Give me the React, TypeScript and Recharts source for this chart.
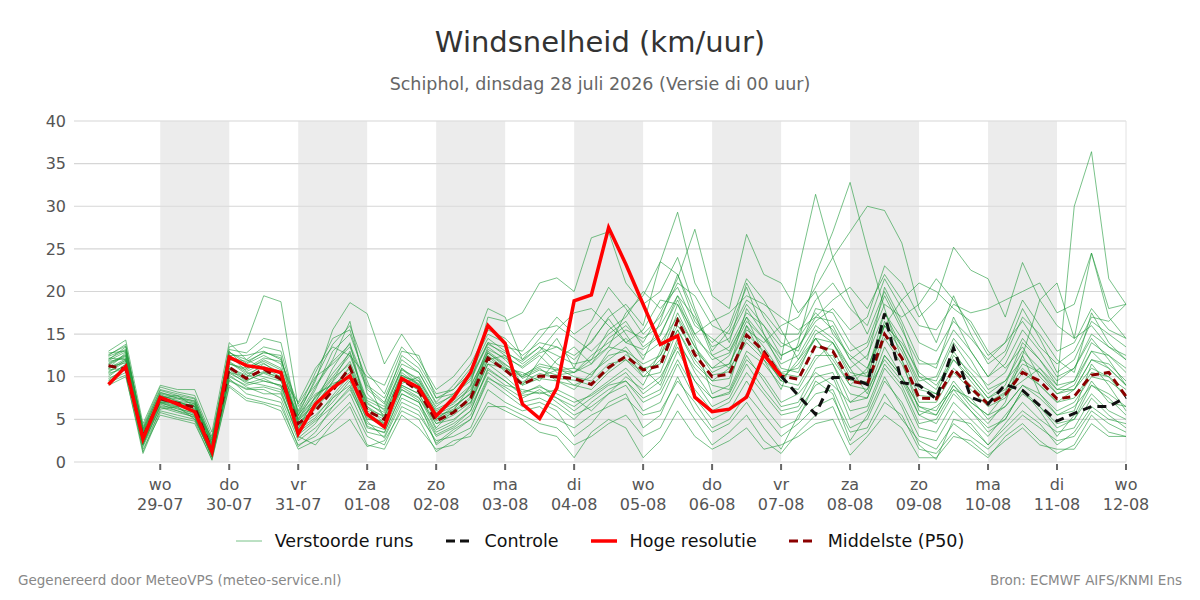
import { ComposedChart, Line, XAxis, YAxis, CartesianGrid, ReferenceArea, ReferenceLine } from 'recharts'

// uren sinds di 28-07 00:00, stap 6 uur
const hours = [
  6, 12, 18, 24, 30, 36, 42, 48, 54, 60,
  66, 72, 78, 84, 90, 96, 102, 108, 114, 120,
  126, 132, 138, 144, 150, 156, 162, 168, 174, 180,
  186, 192, 198, 204, 210, 216, 222, 228, 234, 240,
  246, 252, 258, 264, 270, 276, 282, 288, 294, 300,
  306, 312, 318, 324, 330, 336, 342, 348, 354, 360,
]

const tickHours = [24, 48, 72, 96, 120, 144, 168, 192, 216, 240, 264, 288, 312, 336, 360]
const dayNames = ['wo', 'do', 'vr', 'za', 'zo', 'ma', 'di', 'wo', 'do', 'vr', 'za', 'zo', 'ma', 'di', 'wo']
const dayDates = ['29-07', '30-07', '31-07', '01-08', '02-08', '03-08', '04-08', '05-08', '06-08', '07-08', '08-08', '09-08', '10-08', '11-08', '12-08']
const shadedDays = [24, 72, 120, 168, 216, 264, 312]
const yTicks = [0, 5, 10, 15, 20, 25, 30, 35, 40]

// hoge resolutie: t = 6 .. 240
const hogeResolutie = [
  9.1, 11.2, 2.7, 7.6, 6.8, 5.9, 1.2, 12.3, 11.3, 11.0,
  10.5, 3.3, 6.8, 8.7, 10.1, 5.6, 4.1, 9.8, 8.7, 5.4,
  7.5, 10.5, 16.0, 13.9, 6.8, 5.1, 8.7, 18.9, 19.6, 27.5,
  23.2, 18.5, 13.8, 14.8, 7.6, 5.9, 6.2, 7.6, 12.6, 10.1,
]

// controle: t = 240 .. 360
const controle = [
  10.1, 7.8, 5.6, 9.9, 9.9, 9.1, 17.4, 9.3, 9.0, 7.4,
  13.4, 7.6, 6.8, 9.1, 8.4, 6.6, 4.8, 5.7, 6.5, 6.5, 7.6,
]

const middelste = [
  11.3, 10.9, 2.9, 7.4, 6.9, 6.4, 1.3, 11.1, 9.8, 10.9,
  9.7, 4.5, 6.0, 8.4, 11.1, 6.0, 5.0, 9.7, 8.3, 4.8,
  5.8, 7.5, 12.2, 10.8, 9.1, 10.1, 10.0, 9.8, 9.1, 11.1,
  12.4, 10.8, 11.3, 16.6, 12.6, 10.0, 10.3, 14.9, 13.0, 10.1,
  9.7, 13.7, 13.0, 9.5, 9.1, 15.0, 12.2, 7.5, 7.4, 10.9,
  8.7, 6.8, 7.9, 10.5, 9.5, 7.4, 7.7, 10.2, 10.5, 7.7,
]

// verstoorde runs
const run01 = [12.5, 13.8, 3.5, 8.2, 7.5, 7.0, 2.0, 13.5, 14.0, 19.5, 18.8, 6.5, 9.0, 12.0, 16.5, 8.0, 6.0, 11.0, 9.5, 6.5, 8.0, 9.5, 14.0, 12.5, 9.0, 12.0, 14.5, 11.0, 15.5, 18.0, 15.0, 12.0, 16.5, 22.0, 17.5, 12.5, 11.0, 18.0, 15.0, 12.0, 22.5, 31.4, 24.0, 19.0, 15.0, 20.0, 16.0, 10.0, 8.5, 13.0, 10.0, 7.5, 9.0, 14.0, 12.0, 9.5, 11.0, 14.5, 12.0, 9.0]
const run02 = [10.0, 11.5, 2.0, 6.5, 6.0, 5.5, 0.5, 10.0, 9.0, 9.5, 9.0, 3.5, 5.0, 7.0, 9.5, 4.0, 3.5, 8.0, 7.0, 3.5, 4.5, 6.0, 11.0, 9.5, 8.0, 9.0, 7.5, 6.5, 8.0, 9.5, 11.0, 9.0, 13.0, 18.5, 14.0, 8.0, 9.0, 16.0, 12.0, 8.5, 14.0, 22.0, 27.0, 32.8, 25.0, 18.0, 12.0, 6.0, 5.5, 9.0, 6.5, 4.5, 7.0, 12.5, 8.0, 5.5, 6.0, 11.5, 9.0, 6.0]
const run03 = [11.8, 12.2, 3.0, 7.0, 6.5, 6.8, 1.5, 10.5, 10.0, 11.5, 10.5, 5.0, 7.5, 10.0, 12.5, 7.0, 5.5, 10.5, 9.0, 5.0, 6.5, 8.0, 13.0, 11.5, 10.0, 11.0, 9.5, 8.5, 10.5, 12.0, 13.5, 11.0, 9.0, 14.0, 11.0, 9.0, 8.5, 13.0, 11.5, 9.0, 8.5, 12.0, 14.0, 11.0, 8.0, 13.5, 10.0, 6.5, 6.0, 9.5, 7.0, 5.5, 8.0, 9.5, 11.0, 9.0, 30.0, 36.4, 21.5, 18.5]
const run04 = [12.8, 13.0, 4.0, 8.5, 8.0, 7.5, 2.5, 12.5, 12.5, 13.0, 12.0, 6.0, 10.5, 14.5, 15.5, 9.0, 7.5, 12.0, 10.5, 7.0, 9.0, 11.5, 15.5, 14.5, 12.5, 14.0, 13.5, 12.5, 14.0, 17.0, 18.5, 16.0, 23.5, 29.3, 21.0, 17.5, 14.0, 21.0, 17.0, 14.0, 13.0, 18.0, 17.5, 14.0, 12.0, 20.5, 16.5, 12.0, 11.0, 17.0, 13.0, 10.0, 12.5, 17.0, 15.0, 12.0, 10.5, 17.5, 14.0, 12.0]
const run05 = [9.0, 10.0, 1.5, 5.5, 5.0, 4.5, 0.3, 9.0, 7.5, 7.0, 6.5, 2.0, 3.0, 5.0, 7.0, 3.0, 2.0, 6.5, 5.5, 2.5, 3.0, 4.0, 8.5, 7.0, 6.0, 6.5, 5.0, 4.0, 5.5, 6.5, 7.5, 5.5, 6.0, 9.5, 7.0, 4.0, 5.0, 8.0, 5.5, 3.0, 4.5, 6.5, 7.5, 3.5, 4.0, 8.0, 5.0, 2.5, 1.5, 4.5, 3.0, 1.5, 3.5, 5.5, 4.0, 2.5, 3.0, 6.0, 4.5, 3.5]
const run06 = [11.0, 12.8, 3.2, 7.8, 7.2, 6.2, 1.8, 11.8, 10.5, 10.0, 9.5, 4.0, 6.5, 9.5, 13.0, 6.5, 4.5, 9.0, 8.0, 4.0, 6.0, 9.0, 17.0, 16.5, 17.5, 21.0, 21.6, 20.0, 26.3, 27.0, 21.0, 18.5, 20.0, 24.0, 18.0, 13.0, 15.5, 20.5, 15.0, 11.0, 10.5, 15.0, 16.0, 12.0, 10.0, 16.5, 13.5, 9.0, 8.0, 12.5, 10.5, 8.0, 9.5, 12.0, 10.5, 8.5, 8.5, 12.0, 11.5, 9.5]
const run07 = [10.5, 11.8, 2.5, 7.2, 6.8, 6.0, 1.0, 11.5, 10.8, 12.0, 11.0, 4.5, 7.0, 11.0, 14.0, 5.5, 4.5, 10.0, 9.5, 5.5, 6.0, 7.0, 11.5, 11.0, 10.5, 9.5, 12.0, 13.5, 11.5, 14.5, 16.0, 14.0, 17.5, 21.5, 27.3, 19.5, 18.0, 26.7, 22.0, 21.0, 17.5, 20.0, 15.0, 12.5, 11.0, 16.0, 14.0, 10.5, 9.0, 12.0, 9.5, 7.0, 8.0, 11.0, 9.0, 7.0, 8.5, 11.0, 10.0, 8.5]
const run08 = [11.5, 12.5, 2.8, 7.0, 7.0, 6.5, 1.5, 10.8, 9.5, 10.5, 10.0, 5.5, 8.0, 9.0, 10.5, 7.5, 6.5, 11.0, 9.0, 6.0, 7.0, 8.5, 12.5, 11.0, 10.0, 11.5, 11.0, 10.0, 9.5, 11.5, 12.0, 10.5, 12.5, 16.0, 13.0, 11.0, 12.5, 16.5, 14.5, 12.5, 13.5, 16.5, 18.0, 15.5, 17.0, 23.0, 21.0, 17.0, 19.0, 25.2, 22.5, 21.5, 17.0, 23.4, 19.0, 16.0, 14.5, 16.0, 13.5, 12.0]
const run09 = [12.0, 13.5, 3.8, 8.0, 7.5, 7.2, 2.2, 12.0, 11.5, 12.5, 11.5, 5.0, 8.5, 13.0, 15.0, 9.5, 5.0, 8.5, 7.5, 4.5, 5.5, 7.0, 12.0, 12.5, 11.0, 12.5, 10.5, 9.0, 10.0, 13.0, 14.5, 12.5, 14.0, 17.0, 13.5, 10.5, 11.5, 15.5, 14.0, 16.0, 17.0, 20.5, 24.0, 27.0, 30.0, 29.5, 25.7, 18.0, 14.0, 19.5, 15.0, 11.5, 13.0, 18.0, 14.5, 10.5, 12.0, 16.5, 15.0, 13.5]
const run10 = [9.5, 10.5, 1.8, 6.0, 5.5, 5.0, 0.8, 9.5, 8.5, 8.5, 7.5, 2.5, 4.0, 6.0, 8.0, 3.5, 3.0, 7.5, 6.5, 3.0, 4.0, 5.5, 10.0, 8.5, 7.0, 7.5, 6.5, 5.0, 7.0, 8.5, 9.5, 7.0, 8.0, 12.0, 8.5, 6.0, 7.0, 10.5, 8.0, 5.5, 6.0, 9.0, 10.0, 5.0, 6.0, 11.0, 8.5, 4.0, 3.5, 7.0, 5.0, 3.0, 5.5, 8.0, 6.5, 4.5, 5.0, 8.0, 6.0, 5.0]
const run11 = [12.2, 12.0, 3.6, 7.5, 7.8, 6.5, 2.8, 12.8, 12.0, 13.5, 13.0, 5.8, 9.5, 15.5, 18.7, 17.4, 11.5, 15.0, 12.0, 8.5, 10.0, 12.5, 18.0, 17.0, 12.0, 13.5, 12.5, 11.5, 12.0, 15.5, 17.0, 20.0, 18.0, 20.5, 16.0, 14.5, 13.0, 17.0, 12.5, 9.5, 12.0, 14.5, 11.5, 8.0, 7.5, 12.5, 10.0, 6.5, 5.5, 9.0, 7.0, 5.5, 6.5, 9.0, 8.0, 6.0, 7.0, 10.0, 9.5, 8.0]
const run12 = [10.8, 11.0, 2.2, 6.8, 6.0, 5.2, 0.6, 10.2, 8.8, 8.0, 8.0, 3.0, 2.0, 4.5, 6.5, 2.0, 1.5, 5.5, 4.0, 1.5, 2.0, 3.5, 7.0, 6.0, 5.0, 3.5, 3.0, 0.5, 3.5, 5.0, 4.0, 0.5, 2.5, 6.0, 3.0, 1.5, 2.5, 4.0, 1.5, 2.0, 3.0, 4.5, 5.0, 0.8, 3.0, 5.5, 4.0, 0.5, 0.5, 3.0, 2.5, 0.8, 2.5, 4.0, 2.0, 1.5, 1.5, 4.5, 3.0, 3.0]
const run13 = [13.0, 14.3, 4.5, 9.0, 8.5, 8.5, 3.5, 14.0, 12.0, 11.0, 10.0, 7.0, 11.0, 13.5, 12.5, 10.0, 9.0, 13.5, 11.5, 8.0, 8.5, 10.5, 14.5, 13.0, 11.5, 13.0, 15.5, 17.5, 18.0, 16.0, 14.0, 15.5, 19.0, 18.5, 15.0, 16.5, 17.5, 19.5, 18.5, 17.0, 15.5, 17.0, 19.0, 20.5, 18.0, 22.0, 19.0, 16.0, 15.5, 18.5, 17.5, 18.0, 19.0, 20.0, 21.0, 17.5, 18.5, 24.5, 18.0, 18.5]
const run14 = [9.8, 10.8, 2.4, 7.0, 6.2, 5.8, 1.2, 11.0, 10.2, 9.5, 9.0, 4.2, 5.5, 7.5, 9.0, 5.0, 4.8, 9.0, 8.0, 4.5, 5.0, 6.5, 10.5, 9.0, 8.5, 8.0, 8.5, 7.5, 6.0, 8.0, 10.0, 8.5, 10.0, 13.5, 9.5, 7.5, 8.0, 12.0, 10.0, 7.0, 8.0, 10.5, 9.0, 7.0, 8.5, 12.0, 9.5, 5.5, 6.5, 8.5, 7.5, 5.0, 6.5, 9.0, 7.5, 5.5, 6.5, 9.0, 8.0, 6.5]
const run15 = [11.2, 11.6, 3.0, 7.6, 7.0, 6.6, 1.6, 11.5, 11.0, 11.8, 10.8, 4.8, 7.2, 9.8, 11.5, 6.5, 5.2, 10.2, 9.2, 5.2, 6.2, 8.2, 13.5, 12.0, 9.8, 10.8, 10.2, 10.5, 11.5, 13.5, 17.5, 19.5, 23.5, 22.0, 16.5, 14.0, 16.0, 21.5, 19.0, 15.5, 12.0, 15.5, 14.0, 10.0, 10.5, 17.5, 14.5, 10.0, 9.5, 14.0, 11.0, 9.0, 10.5, 14.5, 12.0, 9.0, 9.5, 13.0, 12.5, 10.5]
const run16 = [10.2, 11.4, 1.2, 6.2, 6.5, 5.0, 0.9, 9.8, 8.0, 7.5, 7.0, 1.8, 3.5, 6.5, 8.5, 4.5, 3.8, 8.5, 7.2, 2.0, 3.5, 5.0, 9.5, 8.0, 6.5, 7.0, 6.0, 3.0, 4.5, 7.0, 8.0, 4.0, 5.5, 10.0, 6.0, 3.5, 4.5, 7.0, 4.0, 1.5, 5.5, 8.0, 8.5, 4.0, 5.0, 9.5, 7.0, 3.0, 2.5, 6.0, 4.0, 2.0, 4.5, 7.0, 5.0, 3.5, 4.0, 7.5, 5.5, 4.0]
const run17 = [11.6, 12.6, 3.3, 7.3, 6.7, 6.3, 1.4, 11.2, 9.6, 10.4, 9.6, 4.6, 6.2, 8.6, 11.2, 6.2, 5.4, 9.6, 8.4, 5.0, 6.0, 7.6, 12.4, 10.6, 9.4, 10.4, 9.8, 9.6, 9.0, 10.8, 12.6, 11.0, 11.5, 16.8, 12.4, 10.2, 10.6, 15.0, 13.0, 10.4, 10.0, 13.5, 13.2, 9.6, 9.4, 15.2, 12.0, 7.8, 7.6, 11.0, 9.0, 7.0, 8.2, 12.5, 19.0, 21.0, 14.5, 24.5, 17.0, 14.5]
const run18 = [10.6, 12.0, 2.6, 7.9, 7.1, 6.9, 1.9, 12.2, 11.8, 12.8, 12.5, 3.8, 7.8, 9.2, 10.0, 5.8, 4.4, 9.2, 10.0, 6.2, 7.2, 9.0, 12.8, 11.2, 9.2, 10.0, 10.8, 11.0, 10.2, 12.5, 13.0, 10.0, 12.0, 15.5, 11.5, 9.5, 11.0, 14.0, 12.0, 9.8, 11.5, 14.5, 12.0, 9.0, 11.0, 16.0, 19.0, 21.0, 20.0, 18.0, 16.5, 13.0, 11.0, 13.5, 10.0, 8.0, 9.0, 13.0, 11.0, 9.0]
const run19 = [9.3, 10.2, 1.0, 5.8, 5.2, 4.8, 0.2, 8.8, 7.2, 6.8, 6.0, 1.5, 2.5, 3.5, 5.0, 1.8, 2.5, 6.0, 5.0, 1.2, 2.5, 3.0, 6.5, 6.5, 5.5, 4.5, 4.0, 2.0, 3.0, 4.5, 5.5, 3.0, 4.0, 8.0, 5.0, 2.0, 3.5, 5.5, 2.5, 1.0, 3.5, 5.5, 6.5, 2.0, 3.5, 7.0, 5.5, 1.5, 1.0, 3.5, 2.0, 0.5, 3.0, 4.5, 2.5, 1.0, 2.0, 5.5, 3.5, 3.0]
const run20 = [12.4, 13.2, 4.2, 8.8, 8.2, 7.8, 3.0, 13.0, 11.0, 12.2, 11.8, 6.8, 10.0, 11.5, 13.5, 8.5, 6.8, 12.5, 11.0, 7.5, 8.0, 10.0, 14.0, 13.5, 13.0, 15.5, 16.0, 14.5, 13.0, 15.0, 16.5, 13.5, 15.0, 19.0, 14.5, 12.5, 13.5, 17.5, 16.0, 13.5, 14.5, 17.5, 15.5, 12.0, 13.5, 18.5, 17.0, 18.5, 21.5, 19.0, 16.0, 12.5, 14.0, 16.5, 13.5, 11.5, 13.0, 17.0, 16.5, 18.5]
const run21 = [11.9, 12.9, 3.4, 7.7, 7.4, 6.8, 2.1, 12.6, 10.6, 11.6, 10.2, 5.2, 7.6, 10.4, 12.8, 7.2, 6.2, 10.8, 9.8, 5.8, 6.8, 8.8, 13.2, 12.2, 11.2, 12.8, 13.5, 12.0, 14.2, 16.8, 14.0, 13.2, 14.8, 19.5, 15.0, 12.0, 12.8, 17.0, 14.5, 11.5, 12.5, 16.0, 14.5, 11.0, 12.5, 17.5, 13.5, 9.5, 10.0, 14.5, 12.0, 8.5, 9.5, 13.0, 11.0, 8.5, 9.5, 14.0, 12.5, 11.0]
const run22 = [10.4, 11.0, 2.3, 6.9, 6.4, 5.6, 1.0, 10.6, 9.2, 9.8, 8.8, 3.8, 5.2, 7.8, 10.2, 5.2, 4.2, 8.8, 7.6, 3.8, 4.8, 6.8, 11.5, 10.0, 8.2, 8.8, 8.0, 7.0, 7.8, 9.2, 10.5, 8.0, 9.5, 14.5, 10.5, 7.5, 8.2, 12.5, 9.5, 6.5, 7.0, 11.0, 11.5, 7.0, 7.5, 12.5, 10.0, 5.5, 4.5, 8.0, 6.0, 4.0, 5.0, 8.5, 6.5, 4.0, 5.0, 9.0, 7.5, 5.5]
const run23 = [12.6, 13.6, 3.9, 8.4, 7.8, 7.4, 2.6, 13.2, 12.8, 14.5, 14.0, 5.5, 9.8, 13.8, 16.0, 10.5, 8.0, 13.0, 12.5, 7.5, 8.5, 11.0, 15.0, 14.0, 12.0, 14.5, 17.0, 15.0, 16.5, 20.5, 18.0, 15.0, 17.0, 21.0, 19.5, 16.0, 15.0, 19.0, 17.5, 15.0, 15.0, 19.0, 21.0, 18.0, 16.0, 21.5, 18.0, 14.0, 13.0, 16.5, 14.5, 12.0, 14.0, 19.0, 16.0, 13.0, 14.0, 18.0, 15.5, 14.5]
const run24 = [10.9, 11.9, 2.9, 7.1, 6.6, 6.1, 1.3, 11.0, 10.0, 10.6, 9.8, 4.4, 6.4, 8.8, 11.0, 6.0, 5.0, 9.5, 8.5, 4.8, 5.8, 7.4, 12.0, 10.8, 9.0, 9.8, 9.5, 9.0, 8.5, 10.5, 12.0, 10.0, 10.5, 15.5, 12.0, 9.5, 9.8, 14.5, 12.5, 9.5, 9.0, 12.5, 12.5, 9.0, 8.5, 14.5, 11.5, 7.0, 7.0, 10.5, 8.5, 6.5, 7.5, 10.5, 9.0, 7.0, 7.5, 10.5, 10.0, 7.5]
const run25 = [11.4, 12.4, 2.1, 6.6, 6.3, 5.4, 0.7, 10.4, 9.4, 9.0, 8.5, 2.8, 4.5, 7.5, 9.8, 4.8, 2.8, 7.0, 6.0, 2.2, 3.8, 5.0, 9.8, 8.8, 7.5, 8.5, 7.0, 5.5, 6.5, 8.0, 9.0, 6.0, 7.0, 11.5, 7.5, 5.0, 6.0, 9.5, 6.5, 4.0, 5.0, 9.5, 8.0, 2.5, 5.5, 10.0, 6.5, 2.0, 0.3, 5.0, 4.5, 2.0, 4.0, 6.0, 4.5, 2.0, 3.5, 6.5, 5.0, 4.5]
const run26 = [12.1, 13.1, 3.7, 8.1, 7.7, 7.1, 2.3, 12.9, 11.6, 12.9, 12.2, 5.4, 8.8, 11.8, 13.8, 8.8, 7.0, 11.5, 10.5, 6.8, 7.8, 9.8, 13.8, 12.8, 11.8, 13.5, 11.5, 10.5, 12.5, 14.0, 15.5, 14.5, 16.0, 19.5, 17.0, 13.5, 14.5, 18.5, 16.0, 12.5, 13.5, 17.0, 16.5, 13.0, 14.0, 19.5, 15.5, 11.5, 11.5, 15.5, 13.0, 10.0, 11.5, 15.5, 13.0, 10.0, 11.0, 15.0, 13.5, 12.5]
const run27 = [9.6, 11.1, 2.0, 6.4, 5.8, 5.3, 0.6, 9.6, 8.6, 8.8, 8.2, 3.2, 4.8, 6.5, 8.8, 4.2, 3.4, 8.0, 7.0, 3.2, 4.2, 6.0, 10.8, 9.5, 7.8, 8.2, 7.5, 6.0, 7.5, 9.0, 9.5, 7.5, 8.5, 13.0, 9.5, 6.5, 7.5, 11.5, 8.5, 6.0, 6.5, 10.0, 10.5, 6.0, 6.5, 11.5, 9.0, 4.5, 5.0, 8.5, 6.0, 3.5, 5.0, 8.5, 6.0, 3.0, 5.5, 9.5, 7.0, 6.5]
const run28 = [11.0, 12.1, 3.1, 7.5, 6.9, 6.5, 1.7, 11.7, 10.3, 11.2, 10.4, 4.9, 6.8, 9.4, 11.8, 6.8, 5.8, 10.2, 9.0, 5.6, 6.5, 8.0, 12.8, 11.4, 10.2, 11.2, 10.8, 10.5, 12.0, 13.5, 13.0, 11.5, 12.5, 17.5, 13.5, 11.0, 11.5, 16.0, 13.5, 10.5, 11.0, 14.5, 14.0, 10.5, 10.0, 16.0, 13.0, 8.5, 8.0, 12.0, 10.0, 7.5, 8.5, 11.5, 10.5, 8.0, 8.5, 12.0, 11.0, 9.0]

const runs = [
  run01, run02, run03, run04, run05, run06, run07, run08, run09, run10, run11, run12, run13, run14,
  run15, run16, run17, run18, run19, run20, run21, run22, run23, run24, run25, run26, run27, run28,
]

const ctrlStart = hours.indexOf(240)

const data = hours.map((t, i) => {
  const row: Record<string, number | null> = {
    t,
    p50: middelste[i],
    hres: i < hogeResolutie.length ? hogeResolutie[i] : null,
    ctrl: i >= ctrlStart ? controle[i - ctrlStart] : null,
  }
  runs.forEach((r, k) => {
    row['m' + k] = r[i]
  })
  return row
})

const FONT = '"DejaVu Sans", Verdana, sans-serif'
const RUN_GREEN = '#1f9a3a'

function DayTick(props: any) {
  const { x, y, index } = props
  return (
    <g>
      <line x1={x} x2={x} y1={y - 8} y2={y - 2} stroke="#666" strokeWidth={2} />
      <text x={x} y={y} textAnchor="middle" fill="#555" fontSize={16} fontFamily={FONT}>
        <tspan x={x} dy={18}>{dayNames[index]}</tspan>
        <tspan x={x} dy={20}>{dayDates[index]}</tspan>
      </text>
    </g>
  )
}

function LegendSample({ color, dash, width, opacity }: { color: string; dash?: string; width: number; opacity?: number }) {
  return (
    <svg width={26} height={12} style={{ marginRight: 13 }}>
      <line x1={0} x2={26} y1={6} y2={6} stroke={color} strokeWidth={width} strokeDasharray={dash} strokeOpacity={opacity ?? 1} />
    </svg>
  )
}

export default function App() {
  return (
    <div style={{ position: 'absolute', left: 0, top: 0, width: 1200, height: 600, background: '#fff', fontFamily: FONT }}>
      <div style={{ position: 'absolute', top: 25, width: 1200, textAlign: 'center', fontSize: 29, lineHeight: '34px', color: '#333' }}>
        Windsnelheid (km/uur)
      </div>
      <div style={{ position: 'absolute', top: 73, width: 1200, textAlign: 'center', fontSize: 17.5, lineHeight: '22px', color: '#666' }}>
        Schiphol, dinsdag 28 juli 2026 (Versie di 00 uur)
      </div>

      <div style={{ position: 'absolute', left: 0, top: 0 }}>
        <ComposedChart width={1200} height={600} data={data} margin={{ top: 121, right: 34, bottom: 78, left: 34 }}>
          {shadedDays.map((d) => (
            <ReferenceArea key={d} x1={d} x2={d + 24} yAxisId="left" fill="#dcdcdc" fillOpacity={0.55} stroke="none" ifOverflow="hidden" />
          ))}
          <CartesianGrid vertical={false} yAxisId="left" stroke="#d6d6d6" strokeWidth={1.2} />
          <ReferenceLine x={360} yAxisId="left" stroke="#e2e2e2" strokeWidth={1} />
          <XAxis
            dataKey="t"
            type="number"
            domain={[-6, 360]}
            ticks={tickHours}
            interval={0}
            axisLine={false}
            tickLine={false}
            tickSize={8}
            height={60}
            tick={<DayTick />}
          />
          <YAxis yAxisId="left" domain={[0, 40]} ticks={yTicks} axisLine={false} tickLine={false} width={40}
            tick={{ fill: '#555', fontSize: 16, fontFamily: FONT }} />
          <YAxis yAxisId="right" orientation="right" domain={[0, 40]} ticks={yTicks} axisLine={false} tickLine={false} width={40}
            tick={{ fill: '#555', fontSize: 16, fontFamily: FONT, textAnchor: 'start' }} />
          {runs.map((_, k) => (
            <Line key={k} yAxisId="left" dataKey={'m' + k} type="linear" stroke={RUN_GREEN} strokeOpacity={0.6}
              strokeWidth={1} dot={false} activeDot={false} isAnimationActive={false} />
          ))}
          <Line yAxisId="left" dataKey="p50" type="linear" stroke="#8b0000" strokeWidth={3} strokeDasharray="8 5"
            dot={false} activeDot={false} isAnimationActive={false} />
          <Line yAxisId="left" dataKey="ctrl" type="linear" stroke="#111" strokeWidth={3} strokeDasharray="9 6"
            dot={false} activeDot={false} isAnimationActive={false} />
          <Line yAxisId="left" dataKey="hres" type="linear" stroke="#ff0000" strokeWidth={3.5}
            dot={false} activeDot={false} isAnimationActive={false} />
        </ComposedChart>
      </div>

      <div style={{ position: 'absolute', top: 530, width: 1200, display: 'flex', justifyContent: 'center', alignItems: 'center', fontSize: 17.5, lineHeight: '22px', color: '#111' }}>
        <div style={{ display: 'flex', alignItems: 'center', marginRight: 32 }}>
          <LegendSample color={RUN_GREEN} width={1} opacity={0.6} />Verstoorde runs
        </div>
        <div style={{ display: 'flex', alignItems: 'center', marginRight: 32 }}>
          <LegendSample color="#111" width={3} dash="9 5" />Controle
        </div>
        <div style={{ display: 'flex', alignItems: 'center', marginRight: 32 }}>
          <LegendSample color="#ff0000" width={3.5} />Hoge resolutie
        </div>
        <div style={{ display: 'flex', alignItems: 'center' }}>
          <LegendSample color="#8b0000" width={3} dash="9 5" />Middelste (P50)
        </div>
      </div>

      <div style={{ position: 'absolute', left: 18, top: 571, fontSize: 13.5, lineHeight: '18px', color: '#888' }}>
        Gegenereerd door MeteoVPS (meteo-service.nl)
      </div>
      <div style={{ position: 'absolute', right: 18, top: 571, fontSize: 13.5, lineHeight: '18px', color: '#888' }}>
        Bron: ECMWF AIFS/KNMI Ens
      </div>
    </div>
  )
}
